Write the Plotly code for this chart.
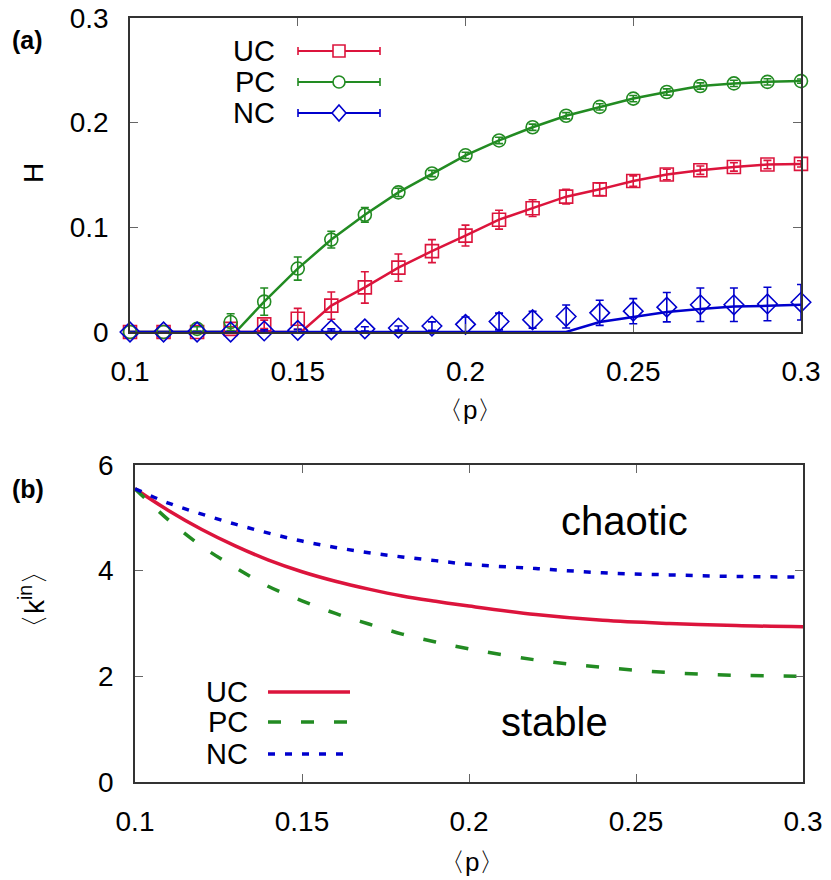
import plotly.graph_objects as go

# ---- panel (a): H vs <p> ----
p_pts = [0.10, 0.11, 0.12, 0.13, 0.14, 0.15, 0.16, 0.17, 0.18, 0.19, 0.20,
         0.21, 0.22, 0.23, 0.24, 0.25, 0.26, 0.27, 0.28, 0.29, 0.30]
h_uc = [0, 0, 0, 0.003, 0.0073, 0.0126, 0.0252, 0.0426, 0.0615, 0.0773, 0.0921,
        0.1073, 0.1183, 0.1293, 0.1363, 0.1442, 0.1505, 0.1546, 0.1577, 0.160, 0.1606]
h_uc_err = [0, 0, 0, 0.002, 0.004, 0.010, 0.013, 0.015, 0.013, 0.011, 0.010,
            0.009, 0.008, 0.007, 0.006, 0.005, 0.005, 0.004, 0.004, 0.004, 0.003]
h_pc = [0, 0, 0.003, 0.0095, 0.029, 0.0606, 0.0883, 0.112, 0.1334, 0.1514, 0.1688,
        0.183, 0.1956, 0.2066, 0.2151, 0.223, 0.2293, 0.235, 0.2375, 0.239, 0.2397]
h_pc_err = [0, 0, 0.002, 0.008, 0.013, 0.011, 0.008, 0.007, 0.004, 0.003, 0.003,
            0.003, 0.003, 0.003, 0.003, 0.003, 0.003, 0.003, 0.003, 0.003, 0.002]
h_nc = [0, 0, 0, 0, 0.001, 0.0016, 0.002, 0.003, 0.0038, 0.0057, 0.0073,
        0.010, 0.0117, 0.0148, 0.0183, 0.0199, 0.0237, 0.026, 0.026, 0.0268, 0.0284]
h_nc_err = [0, 0, 0, 0, 0.001, 0.001, 0.001, 0.002, 0.002, 0.004, 0.007,
            0.008, 0.008, 0.011, 0.012, 0.012, 0.014, 0.016, 0.016, 0.016, 0.017]

# fitted curves (panel a)
p_fit_uc = [0.10, 0.151, 0.16, 0.17, 0.18, 0.19, 0.20, 0.21, 0.22, 0.23, 0.24, 0.25, 0.26, 0.27, 0.28, 0.29, 0.30]
h_fit_uc = [0, 0, 0.0252, 0.0426, 0.0615, 0.0773, 0.0921, 0.1073, 0.1183, 0.1293, 0.1363, 0.1442, 0.1505, 0.1546, 0.1577, 0.160, 0.1606]
p_fit_pc = [0.10, 0.1315, 0.14, 0.15, 0.16, 0.17, 0.18, 0.19, 0.20, 0.21, 0.22, 0.23, 0.24, 0.25, 0.26, 0.27, 0.28, 0.29, 0.30]
h_fit_pc = [0, 0, 0.029, 0.0606, 0.0883, 0.112, 0.1334, 0.1514, 0.1688, 0.183, 0.1956, 0.2066, 0.2151, 0.223, 0.2293, 0.235, 0.2375, 0.239, 0.2397]
p_fit_nc = [0.10, 0.230, 0.24, 0.25, 0.26, 0.27, 0.28, 0.29, 0.30]
h_fit_nc = [0, 0, 0.0095, 0.0142, 0.019, 0.022, 0.0243, 0.025, 0.026]

# ---- panel (b): <k_in> vs <p> ----
p_k = [0.10, 0.11, 0.12, 0.13, 0.14, 0.15, 0.16, 0.17, 0.18, 0.19, 0.20, 0.22, 0.24, 0.26, 0.28, 0.30]
k_uc = [5.55, 5.14, 4.78, 4.47, 4.20, 3.98, 3.80, 3.65, 3.52, 3.42, 3.33, 3.17, 3.06, 3.00, 2.96, 2.94]
k_pc = [5.55, 4.96, 4.46, 4.06, 3.70, 3.43, 3.19, 2.99, 2.80, 2.65, 2.52, 2.31, 2.17, 2.07, 2.02, 2.00]
k_nc = [5.55, 5.28, 5.07, 4.88, 4.71, 4.56, 4.44, 4.34, 4.26, 4.19, 4.12, 4.04, 3.96, 3.92, 3.89, 3.88]

series = ['UC', 'PC', 'NC']
colors = {'UC': '#dc143c', 'PC': '#228b22', 'NC': '#0000cd'}
symbols = {'UC': 'square-open', 'PC': 'circle-open', 'NC': 'diamond-open'}

xticks = [0.1, 0.15, 0.2, 0.25, 0.3]
xtick_text = ['0.1', '0.15', '0.2', '0.25', '0.3']
yticks_a = [0, 0.1, 0.2, 0.3]
ytick_text_a = ['0', '0.1', '0.2', '0.3']
yticks_b = [0, 2, 4, 6]
ytick_text_b = ['0', '2', '4', '6']

# the page body has an 8px margin, so the figure is drawn 8px smaller and
# all layout positions (given in window pixels) are shifted by it
OFF = 8
W, H = 831 - OFF, 880 - OFF
FONT = 'Liberation Sans'


def px(x):
    return (x - OFF) / W


def py(y):
    return 1 - (y - OFF) / H


fig = go.Figure()

pts = {'UC': (h_uc, h_uc_err), 'PC': (h_pc, h_pc_err), 'NC': (h_nc, h_nc_err)}
fits = {'UC': (p_fit_uc, h_fit_uc), 'PC': (p_fit_pc, h_fit_pc), 'NC': (p_fit_nc, h_fit_nc)}
for s in series:
    fx, fy = fits[s]
    fig.add_trace(go.Scatter(x=fx, y=fy, mode='lines', xaxis='x', yaxis='y',
                             line=dict(color=colors[s], width=2.5), showlegend=False,
                             cliponaxis=False))
for s in series:
    yv, ye = pts[s]
    fig.add_trace(go.Scatter(
        x=p_pts, y=yv, mode='markers', xaxis='x', yaxis='y',
        marker=dict(symbol=symbols[s], size=13 if s != 'NC' else 15,
                    color=colors[s], line=dict(width=1.6, color=colors[s])),
        error_y=dict(type='data', array=ye, color=colors[s], thickness=1.6, width=4),
        showlegend=False, cliponaxis=False))

kdata = {'UC': k_uc, 'PC': k_pc, 'NC': k_nc}
kdash = {'UC': 'solid', 'PC': '13px,20px', 'NC': '7px,10px'}
for s in series:
    fig.add_trace(go.Scatter(x=p_k, y=kdata[s], mode='lines', xaxis='x2', yaxis='y2',
                             line=dict(color=colors[s], width=3.5, dash=kdash[s], shape='spline'),
                             showlegend=False))

axis_common = dict(showline=True, linecolor='#333333', linewidth=1.5, mirror='ticks',
                   ticks='inside', ticklen=8, tickcolor='#666666', tickwidth=1,
                   showgrid=False, zeroline=False, automargin=False,
                   ticklabeloverflow='allow', ticklabelstandoff=14,
                   tickfont=dict(family=FONT, size=28, color='black'))

fig.update_layout(
    width=W, height=H,
    margin=dict(l=0, r=0, t=0, b=0, pad=0, autoexpand=False),
    showlegend=False,
    plot_bgcolor='white', paper_bgcolor='white',
    xaxis=dict(axis_common, domain=[px(130), px(801)], range=[0.1, 0.3], anchor='y',
               tickvals=xticks, ticktext=xtick_text),
    yaxis=dict(axis_common, domain=[py(332), py(18)], range=[0, 0.3], anchor='x',
               tickvals=yticks_a, ticktext=ytick_text_a),
    xaxis2=dict(axis_common, domain=[px(135), px(803)], range=[0.1, 0.3], anchor='y2',
                tickvals=xticks, ticktext=xtick_text),
    yaxis2=dict(axis_common, domain=[py(782), py(465)], range=[0, 6], anchor='x2',
                tickvals=yticks_b, ticktext=ytick_text_b),
)


# text labels
def text(x, y, t, size=28, xanchor='center', **kw):
    fig.add_annotation(x=px(x), y=py(y), xref='paper', yref='paper', text=t,
                       xanchor=xanchor, yanchor='middle', showarrow=False,
                       font=dict(family=FONT, size=size, color='black'), **kw)


text(27, 40, '<b>(a)</b>', size=25)
text(28, 489, '<b>(b)</b>', size=25)
text(33, 173, 'H', size=28, textangle=-90)
text(32, 600, '〈k<sup>in</sup>〉', size=28, textangle=-90)
text(470, 410, '〈p〉', size=26)
text(472, 862, '〈p〉', size=26)
text(624, 521, 'chaotic', size=40)
text(554, 722, 'stable', size=40)

# legend, panel (a)
leg_a_y = {'UC': 51, 'PC': 82, 'NC': 113}
for s in series:
    y = leg_a_y[s]
    c = colors[s]
    text(277, y, s, size=29, xanchor='right')
    fig.add_shape(type='line', xref='paper', yref='paper', x0=px(298), x1=px(380),
                  y0=py(y), y1=py(y), line=dict(color=c, width=2))
    for xe in (298, 380):
        fig.add_shape(type='line', xref='paper', yref='paper', x0=px(xe), x1=px(xe),
                      y0=py(y - 4), y1=py(y + 4), line=dict(color=c, width=1.6))
    if s == 'UC':
        fig.add_shape(type='rect', xref='paper', yref='paper', x0=px(333), x1=px(345),
                      y0=py(y + 6), y1=py(y - 6), line=dict(color=c, width=1.6), fillcolor='white')
    elif s == 'PC':
        fig.add_shape(type='circle', xref='paper', yref='paper', x0=px(333), x1=px(345),
                      y0=py(y + 6), y1=py(y - 6), line=dict(color=c, width=1.6), fillcolor='white')
    else:
        path = 'M {} {} L {} {} L {} {} L {} {} Z'.format(
            px(339), py(y - 8), px(346), py(y), px(339), py(y + 8), px(332), py(y))
        fig.add_shape(type='path', xref='paper', yref='paper', path=path,
                      line=dict(color=c, width=1.6), fillcolor='white')

# legend, panel (b)
leg_b_y = {'UC': 692, 'PC': 722, 'NC': 754}
leg_b_end = {'UC': 350, 'PC': 350, 'NC': 343}
for s in series:
    y = leg_b_y[s]
    text(250, y, s, size=29, xanchor='right')
    fig.add_shape(type='line', xref='paper', yref='paper', x0=px(268), x1=px(leg_b_end[s]),
                  y0=py(y), y1=py(y), line=dict(color=colors[s], width=3.5, dash=kdash[s]))

fig.write_html("out.html")
